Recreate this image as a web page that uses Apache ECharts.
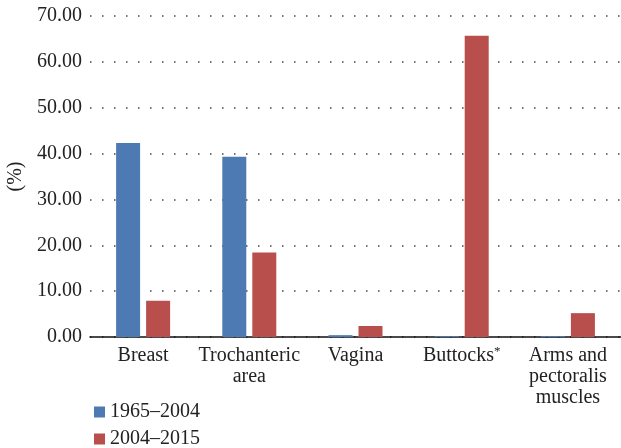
<!DOCTYPE html>
<html>
<head>
<meta charset="utf-8">
<script src="https://cdn.jsdelivr.net/npm/echarts@6/dist/echarts.min.js"></script>
<style>
  html, body { margin: 0; padding: 0; background: #fff; }
  #chart { width: 621px; height: 448px; }
</style>
</head>
<body>
<div id="chart"></div>
<script>
// categories and values
const categories = ['Breast', 'Trochanteric\narea', 'Vagina', 'Buttocks*', 'Arms and\npectoralis\nmuscles'];
const period1 = [42.3, 39.3, 0.4, 0.2, 0.2];   // 1965–2004
const period2 = [7.9, 18.4, 2.4, 65.7, 5.2];   // 2004–2015
const seriesNames = ['1965–2004', '2004–2015'];

const font = '"Liberation Serif", "DejaVu Serif", serif';
const legendText = { fontFamily: font, fontSize: 20, color: '#222' };

const chart = echarts.init(document.getElementById('chart'));
chart.setOption({
  animation: false,
  textStyle: { fontFamily: font },
  grid: { left: 90, right: 0, top: 16, bottom: 111, containLabel: false, outerBoundsMode: 'none' },
  legend: [
    { left: 89, top: 397, itemWidth: 11, itemHeight: 11, icon: 'rect', textStyle: legendText, data: [seriesNames[0]] },
    { left: 89, top: 424, itemWidth: 11, itemHeight: 11, icon: 'rect', textStyle: legendText, data: [seriesNames[1]] }
  ],
  xAxis: {
    type: 'category',
    data: categories,
    axisLine: { lineStyle: { color: '#111', width: 1.5 } },
    axisTick: { show: false },
    axisLabel: {
      interval: 0,
      margin: 8,
      color: '#222',
      fontSize: 20,
      lineHeight: 21,
      fontFamily: font,
      hideOverlap: false,
      formatter: v => v.endsWith('*') ? v.slice(0, -1) + '{sup|*}' : v,
      rich: { sup: { fontSize: 13, verticalAlign: 'top', padding: [0, 0, 8, 0], fontFamily: font, color: '#222' } }
    }
  },
  yAxis: {
    type: 'value',
    min: 0, max: 70, interval: 10,
    name: '(%)',
    nameLocation: 'middle',
    nameGap: 63,
    nameTextStyle: { fontFamily: font, fontSize: 20, color: '#222' },
    axisLine: { show: false },
    axisTick: { show: false },
    axisLabel: { color: '#222', fontSize: 20, fontFamily: font, margin: 8, formatter: v => v.toFixed(2) },
    splitLine: { lineStyle: { color: '#444', type: [1.5, 10.5], width: 1.5 } }
  },
  series: [
    { name: seriesNames[0], type: 'bar', data: period1, barWidth: 24, barGap: '25%', itemStyle: { color: '#4E7AB4' } },
    { name: seriesNames[1], type: 'bar', data: period2, barWidth: 24, itemStyle: { color: '#B84F4D' } }
  ]
});
</script>
</body>
</html>
